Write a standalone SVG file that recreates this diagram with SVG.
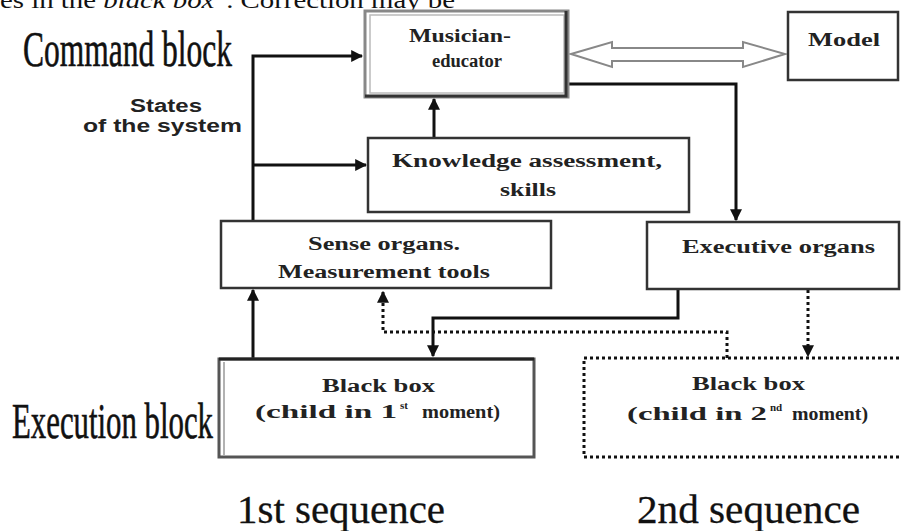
<svg xmlns="http://www.w3.org/2000/svg" width="901" height="531" viewBox="0 0 901 531">
<style>
.box{fill:#fff;stroke:#333;stroke-width:2.5}
.lbl{font-family:"Liberation Serif","Times New Roman",serif;font-size:18px;font-weight:bold;fill:#222}
.big{font-family:"Liberation Serif","Times New Roman",serif;fill:#111;stroke:#111;stroke-width:0.6}
.seq{font-family:"Liberation Serif","Times New Roman",serif;fill:#111;stroke:#111;stroke-width:0.3}
.top{font-family:"Liberation Serif","Times New Roman",serif;fill:#111}
.side{font-family:"Liberation Sans",Arial,sans-serif;font-weight:bold;font-size:18px;fill:#222}
.ln{fill:none;stroke:#111;stroke-width:3}
.dot{fill:none;stroke:#111;stroke-width:3;stroke-dasharray:3 3}
.sup{font-size:11px}
</style>
<defs>
<marker id="ah" viewBox="0 0 10 10" refX="9" refY="5" markerWidth="4" markerHeight="4" orient="auto" markerUnits="strokeWidth">
<path d="M0,0 L10,5 L0,10 z" fill="#111"/>
</marker>
</defs>
<rect width="901" height="531" fill="#fff"/>
<text class="top" x="0" y="8" font-size="24" textLength="455" lengthAdjust="spacingAndGlyphs">es in the <tspan font-style="italic">black box</tspan>". Correction may be</text>
<text class="big" x="23" y="66" font-size="50" textLength="209" lengthAdjust="spacingAndGlyphs">Command block</text>
<text class="big" x="12" y="438" font-size="50" textLength="201" lengthAdjust="spacingAndGlyphs">Execution block</text>
<text class="seq" x="237" y="523" font-size="40" textLength="208" lengthAdjust="spacingAndGlyphs">1st sequence</text>
<text class="seq" x="637" y="523" font-size="40" textLength="223" lengthAdjust="spacingAndGlyphs">2nd sequence</text>
<text class="side" x="130" y="112" textLength="72" lengthAdjust="spacingAndGlyphs">States</text>
<text class="side" x="83" y="132" textLength="159" lengthAdjust="spacingAndGlyphs">of the system</text>
<g id="connectors">
<polyline class="ln" points="253,221 253,56 362,56" marker-end="url(#ah)"/>
<polyline class="ln" points="253,165 366,165" marker-end="url(#ah)"/>
<polyline class="ln" points="434,138 434,99" marker-end="url(#ah)"/>
<polyline class="ln" points="568,84 736,84 736,220" marker-end="url(#ah)"/>
<polyline class="ln" points="253,358 253,290" marker-end="url(#ah)"/>
<polyline class="dot" points="727,358 727,332 383,332 383,292" marker-end="url(#ah)"/>
<polyline class="ln" points="678,289 678,318 433,318 433,356" marker-end="url(#ah)"/>
<polyline class="dot" points="808,290 808,356" marker-end="url(#ah)"/>
<path d="M571,54 L612,42 L612,48 L743,48 L743,42 L785,54 L743,67 L743,61 L612,61 L612,67 Z" fill="#fff" stroke="#888" stroke-width="2"/>
</g>
<g id="musician">
<rect x="365" y="11" width="203" height="86" fill="#fff" stroke="#888" stroke-width="3"/>
<rect x="370" y="15" width="194" height="78" fill="none" stroke="#bbb" stroke-width="1.5"/>
<polyline points="566,11 566,96 365,96" fill="none" stroke="#333" stroke-width="3"/>
<text class="lbl" x="409" y="42" textLength="102" lengthAdjust="spacingAndGlyphs">Musician-</text>
<text class="lbl" x="432" y="67" textLength="70" lengthAdjust="spacingAndGlyphs">educator</text>
</g>
<g id="model">
<rect x="788" y="12" width="110" height="68" class="box"/>
<text class="lbl" x="808" y="46" textLength="72" lengthAdjust="spacingAndGlyphs">Model</text>
</g>
<g id="knowledge">
<rect x="368" y="138" width="321" height="74" class="box"/>
<text class="lbl" x="392" y="167" textLength="270" lengthAdjust="spacingAndGlyphs">Knowledge assessment,</text>
<text class="lbl" x="500" y="196" textLength="56" lengthAdjust="spacingAndGlyphs">skills</text>
</g>
<g id="sense">
<rect x="221" y="221" width="330" height="67" class="box"/>
<text class="lbl" x="308" y="250" textLength="152" lengthAdjust="spacingAndGlyphs">Sense organs.</text>
<text class="lbl" x="278" y="278" textLength="212" lengthAdjust="spacingAndGlyphs">Measurement tools</text>
</g>
<g id="executive">
<rect x="647" y="222" width="252" height="67" class="box"/>
<text class="lbl" x="682" y="253" textLength="193" lengthAdjust="spacingAndGlyphs">Executive organs</text>
</g>
<g id="blackbox1">
<rect x="219" y="359" width="315" height="98" fill="#fff" stroke="#555" stroke-width="3"/>
<line x1="224" y1="362" x2="224" y2="455" stroke="#999" stroke-width="1.5"/>
<polyline points="219,359 534,359" fill="none" stroke="#222" stroke-width="3"/>
<text class="lbl" x="322" y="392" textLength="113" lengthAdjust="spacingAndGlyphs">Black box</text>
<text class="lbl" x="255" y="418" textLength="142" lengthAdjust="spacingAndGlyphs">(child in 1</text>
<text class="lbl sup" x="400" y="409">st</text>
<text class="lbl" x="422" y="418" textLength="78" lengthAdjust="spacingAndGlyphs">moment)</text>
</g>
<g id="blackbox2">
<rect x="584" y="358" width="330" height="99" fill="none" stroke="#111" stroke-width="3" stroke-dasharray="3 3"/>
<text class="lbl" x="692" y="390" textLength="113" lengthAdjust="spacingAndGlyphs">Black box</text>
<text class="lbl" x="627" y="420" textLength="140" lengthAdjust="spacingAndGlyphs">(child in 2</text>
<text class="lbl sup" x="770" y="411">nd</text>
<text class="lbl" x="792" y="420" textLength="76" lengthAdjust="spacingAndGlyphs">moment)</text>
</g>
</svg>
